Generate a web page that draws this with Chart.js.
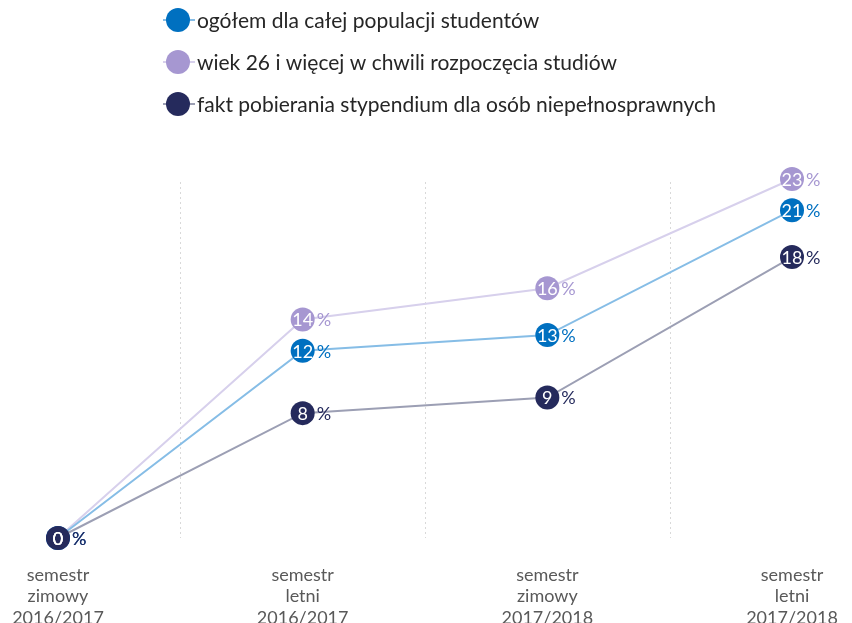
<!DOCTYPE html>
<html><head><meta charset="utf-8">
<script src="https://cdn.jsdelivr.net/npm/chart.js@4.4.1/dist/chart.umd.min.js"></script>
<style>html,body{margin:0;padding:0;background:#fff;overflow:hidden}</style>
</head><body>
<canvas id="c" width="852" height="623"></canvas>
<script>
const categories = [["semestr","zimowy","2016/2017"],["semestr","letni","2016/2017"],["semestr","zimowy","2017/2018"],["semestr","letni","2017/2018"]];
const seriesNames = ["ogółem dla całej populacji studentów","wiek 26 i więcej w chwili rozpoczęcia studiów","fakt pobierania stypendium dla osób niepełnosprawnych"];
const ogolem = [0, 12, 13, 21];
const wiek26 = [0, 14, 16, 23];
const stypendium = [0, 8, 9, 18];
const yMin = 0, yMax = 23;

const markerColors = ['#0070C0', '#A697D1', '#252A5C'];
const lineColors = ['#86BDE6', '#D7D0EC', '#9C9FB4'];
const FONT = 'Lato, "Open Sans", sans-serif';

function ds(i, data, order) {
  return {
    label: seriesNames[i], data: data, order: order,
    borderColor: lineColors[i], borderWidth: 2,
    pointRadius: 12, pointHoverRadius: 12,
    pointBackgroundColor: markerColors[i], pointBorderWidth: 0,
    pointBorderColor: markerColors[i],
    tension: 0, clip: false, fill: false
  };
}

const gridPlugin = {
  id: 'grid',
  beforeDatasetsDraw(chart) {
    const ctx = chart.ctx, xs = chart.scales.x, a = chart.chartArea;
    ctx.save();
    ctx.strokeStyle = '#D9D9D9'; ctx.lineWidth = 1; ctx.setLineDash([2, 3]);
    for (let i = 0; i < categories.length - 1; i++) {
      const x = Math.round((xs.getPixelForValue(i) + xs.getPixelForValue(i + 1)) / 2) + 0.5;
      ctx.beginPath(); ctx.moveTo(x, a.top + 3); ctx.lineTo(x, a.bottom); ctx.stroke();
    }
    ctx.restore();
  }
};

const labelPlugin = {
  id: 'labels',
  afterDatasetsDraw(chart) {
    const ctx = chart.ctx;
    ctx.save();
    const metas = chart.getSortedVisibleDatasetMetas().slice().reverse();
    metas.forEach(meta => {
      const i = meta.index;
      const d = chart.data.datasets[i].data;
      meta.data.forEach((pt, j) => {
        ctx.font = '18px ' + FONT;
        ctx.textBaseline = 'middle';
        ctx.textAlign = 'center';
        ctx.fillStyle = '#FFFFFF';
        ctx.fillText(String(d[j]), pt.x, pt.y + 1);
        ctx.textAlign = 'left';
        ctx.fillStyle = markerColors[i];
        ctx.fillText('%', pt.x + 14, pt.y + 1);
      });
    });
    ctx.restore();
  }
};

const legendPlugin = {
  id: 'customLegend',
  afterDraw(chart) {
    const ctx = chart.ctx;
    ctx.save();
    chart.data.datasets.forEach((dset, i) => {
      const y = 20 + 42 * i;
      ctx.strokeStyle = lineColors[i]; ctx.lineWidth = 2;
      ctx.beginPath(); ctx.moveTo(163, y); ctx.lineTo(195, y); ctx.stroke();
      ctx.fillStyle = markerColors[i];
      ctx.beginPath(); ctx.arc(178, y, 12, 0, Math.PI * 2); ctx.fill();
      ctx.fillStyle = '#262626';
      ctx.font = '21px ' + FONT;
      ctx.textBaseline = 'middle'; ctx.textAlign = 'left';
      ctx.fillText(dset.label, 197, y + 1);
    });
    ctx.restore();
  }
};

new Chart(document.getElementById('c'), {
  type: 'line',
  data: {
    labels: categories,
    datasets: [ds(0, ogolem, 1), ds(1, wiek26, 2), ds(2, stypendium, 0)]
  },
  options: {
    responsive: false, animation: false, devicePixelRatio: 1,
    layout: { padding: { left: 58, right: 60, top: 179, bottom: 0 } },
    plugins: { legend: { display: false }, tooltip: { enabled: false } },
    scales: {
      x: {
        type: 'category', offset: false,
        grid: { display: false }, border: { display: false },
        ticks: { color: '#595959', font: { family: FONT, size: 18, lineHeight: 1.2 }, padding: 18, maxRotation: 0, autoSkip: false },
        afterFit(scale) { scale.height = 85; scale.paddingLeft = 0; scale.paddingRight = 0; }
      },
      y: {
        display: false, min: yMin, max: yMax
      }
    }
  },
  plugins: [gridPlugin, labelPlugin, legendPlugin]
});
</script>
</body></html>
